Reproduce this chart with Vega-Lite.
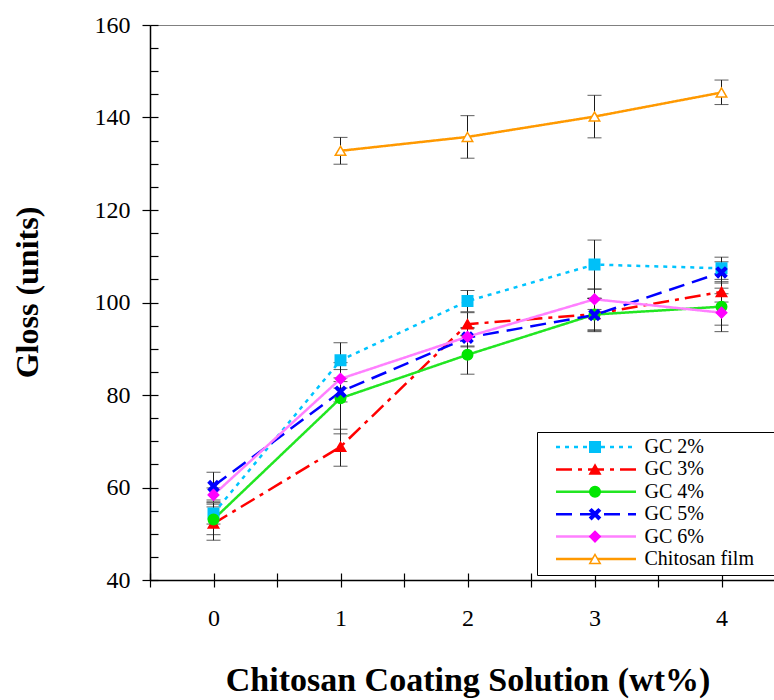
{
  "$schema": "https://vega.github.io/schema/vega-lite/v6.json",
  "width": 635,
  "height": 555,
  "autosize": {"type": "none"},
  "padding": {"left": 150, "top": 25, "right": 0, "bottom": 120},
  "background": "white",
  "config": {"view": {"stroke": "#808080", "strokeWidth": 1}, "font": "Liberation Serif, Times New Roman, DejaVu Serif, serif"},
  "data": {"values": [
    {"s": "GC 2%", "k": "1", "x": 0, "y": 54.4, "lo": 52.1, "hi": 56.7},
    {"s": "GC 2%", "k": "1", "x": 1, "y": 87.5, "lo": 83.7, "hi": 91.3},
    {"s": "GC 2%", "k": "1", "x": 2, "y": 100.3, "lo": 98.0, "hi": 102.6},
    {"s": "GC 2%", "k": "1", "x": 3, "y": 108.2, "lo": 102.9, "hi": 113.5},
    {"s": "GC 2%", "k": "1", "x": 4, "y": 107.4, "lo": 105.0, "hi": 109.8},
    {"s": "GC 3%", "k": "2", "x": 0, "y": 52.2, "lo": 48.6, "hi": 55.8},
    {"s": "GC 3%", "k": "2", "x": 1, "y": 68.8, "lo": 64.6, "hi": 72.6},
    {"s": "GC 3%", "k": "2", "x": 2, "y": 95.3, "lo": 92.8, "hi": 97.8},
    {"s": "GC 3%", "k": "2", "x": 3, "y": 97.5, "lo": 94.1, "hi": 100.9},
    {"s": "GC 3%", "k": "2", "x": 4, "y": 102.3, "lo": 100.1, "hi": 104.5},
    {"s": "GC 4%", "k": "3", "x": 0, "y": 53.1, "lo": 49.8, "hi": 56.4},
    {"s": "GC 4%", "k": "3", "x": 1, "y": 79.3, "lo": 71.6, "hi": 87.0},
    {"s": "GC 4%", "k": "3", "x": 2, "y": 88.7, "lo": 84.5, "hi": 92.9},
    {"s": "GC 4%", "k": "3", "x": 3, "y": 97.4, "lo": 93.9, "hi": 100.9},
    {"s": "GC 4%", "k": "3", "x": 4, "y": 99.1, "lo": 95.1, "hi": 103.1},
    {"s": "GC 5%", "k": "4", "x": 0, "y": 60.3, "lo": 57.3, "hi": 63.3},
    {"s": "GC 5%", "k": "4", "x": 1, "y": 80.7, "lo": 78.5, "hi": 82.9},
    {"s": "GC 5%", "k": "4", "x": 2, "y": 92.4, "lo": 90.4, "hi": 94.4},
    {"s": "GC 5%", "k": "4", "x": 3, "y": 97.3, "lo": 93.7, "hi": 100.9},
    {"s": "GC 5%", "k": "4", "x": 4, "y": 106.5, "lo": 104.2, "hi": 108.8},
    {"s": "GC 6%", "k": "5", "x": 0, "y": 58.4, "lo": 56.9, "hi": 59.9},
    {"s": "GC 6%", "k": "5", "x": 1, "y": 83.5, "lo": 81.5, "hi": 85.5},
    {"s": "GC 6%", "k": "5", "x": 2, "y": 92.6, "lo": 90.6, "hi": 94.6},
    {"s": "GC 6%", "k": "5", "x": 3, "y": 100.7, "lo": 98.5, "hi": 102.9},
    {"s": "GC 6%", "k": "5", "x": 4, "y": 97.8, "lo": 93.7, "hi": 101.9},
    {"s": "Chitosan film", "k": "6", "x": 1, "y": 132.8, "lo": 129.9, "hi": 135.7},
    {"s": "Chitosan film", "k": "6", "x": 2, "y": 135.8, "lo": 131.2, "hi": 140.4},
    {"s": "Chitosan film", "k": "6", "x": 3, "y": 140.2, "lo": 135.6, "hi": 144.8},
    {"s": "Chitosan film", "k": "6", "x": 4, "y": 145.4, "lo": 142.8, "hi": 148.1}
  ]},
  "layer": [
    {
      "mark": {"type": "errorbar", "ticks": {"size": 14}, "color": "#1a1a1a", "thickness": 1},
      "encoding": {
        "x": {"field": "x", "type": "quantitative", "scale": {"domain": [-0.5, 4.5], "nice": false, "zero": false}, "axis": null},
        "y": {"field": "lo", "type": "quantitative", "scale": {"domain": [40, 160], "nice": false, "zero": false}, "axis": null},
        "y2": {"field": "hi"}
      }
    },
    {
      "mark": {"type": "line", "strokeWidth": 2.5},
      "encoding": {
        "x": {"field": "x", "type": "quantitative", "axis": {
          "orient": "bottom", "values": [-0.5, 0, 0.5, 1, 1.5, 2, 2.5, 3, 3.5, 4, 4.5],
          "labelExpr": "datum.value % 1 === 0 ? '' + datum.value : ''",
          "tickSize": 7, "tickColor": "black", "tickWidth": 1.2, "domainColor": "black", "domainWidth": 1.5,
          "labelFont": "Liberation Serif, Times New Roman, DejaVu Serif, serif", "labelFontSize": 24, "labelColor": "black", "labelPadding": 19,
          "labelFlush": false, "labelOverlap": false, "grid": false,
          "title": "Chitosan Coating Solution (wt%)", "titleFont": "Liberation Serif, Times New Roman, DejaVu Serif, serif", "titleFontSize": 34,
          "titleFontWeight": "bold", "titleColor": "black", "titlePadding": 33}},
        "y": {"field": "y", "type": "quantitative", "axis": {
          "orient": "left", "values": [40, 60, 80, 100, 120, 140, 160],
          "tickSize": 8, "tickColor": "black", "tickWidth": 1.2, "domainColor": "black", "domainWidth": 1.5,
          "labelFont": "Liberation Serif, Times New Roman, DejaVu Serif, serif", "labelFontSize": 24, "labelColor": "black", "labelPadding": 12,
          "labelOverlap": false, "grid": false,
          "title": "Gloss (units)", "titleFont": "Liberation Serif, Times New Roman, DejaVu Serif, serif", "titleFontSize": 32,
          "titleFontWeight": "bold", "titleColor": "black", "titlePadding": 50, "titleY": 267}},
        "color": {"field": "s", "type": "nominal",
          "scale": {"domain": ["GC 2%", "GC 3%", "GC 4%", "GC 5%", "GC 6%", "Chitosan film"],
                    "range": ["#00C4FF", "#FF0000", "#22E622", "#0000FF", "#FF80FF", "#FF9900"]},
          "legend": {"orient": "none", "legendX": 387, "legendY": 407, "zindex": 0,
            "title": "M", "titleOrient": "right", "titleColor": "rgba(0,0,0,0)", "titleFontSize": 10, "titlePadding": 8,
            "symbolType": "stroke", "symbolSize": 6400, "symbolStrokeWidth": 2.5, "symbolOffset": 11.5,
            "labelFont": "Liberation Serif, Times New Roman, DejaVu Serif, serif", "labelFontSize": 20, "labelColor": "black", "labelOffset": 7,
            "padding": 6, "clipHeight": 18, "rowPadding": 2.4, "strokeColor": "black", "fillColor": "white"}},
        "strokeDash": {"field": "s", "type": "nominal",
          "scale": {"domain": ["GC 2%", "GC 3%", "GC 4%", "GC 5%", "GC 6%", "Chitosan film"],
                    "range": [[4, 5], [16, 6, 4, 6], [1, 0], [16, 8], [1, 0], [1, 0]]},
          "legend": {"orient": "none", "legendX": 387, "legendY": 407, "zindex": 0,
            "title": "M", "titleOrient": "right", "titleColor": "rgba(0,0,0,0)", "titleFontSize": 10, "titlePadding": 8,
            "symbolType": "stroke", "symbolSize": 6400, "symbolStrokeWidth": 2.5, "symbolOffset": 11.5,
            "labelFont": "Liberation Serif, Times New Roman, DejaVu Serif, serif", "labelFontSize": 20, "labelColor": "black", "labelOffset": 7,
            "padding": 6, "clipHeight": 18, "rowPadding": 2.4, "strokeColor": "black", "fillColor": "white"}}
      }
    },
    {
      "mark": {"type": "point", "filled": true, "size": 110, "strokeWidth": 1.5, "opacity": 1},
      "encoding": {
        "x": {"field": "x", "type": "quantitative", "axis": {
          "orient": "bottom", "values": [-0.5, 0, 0.5, 1, 1.5, 2, 2.5, 3, 3.5, 4, 4.5],
          "tickSize": -7, "tickColor": "black", "tickWidth": 1.2, "labels": false, "domain": false, "title": null, "grid": false}},
        "y": {"field": "y", "type": "quantitative", "axis": {
          "orient": "left", "values": [40, 45, 50, 55, 60, 65, 70, 75, 80, 85, 90, 95, 100, 105, 110, 115, 120, 125, 130, 135, 140, 145, 150, 155, 160],
          "tickSize": -8, "tickColor": "black", "tickWidth": 1.2, "labels": false, "domain": false, "title": null, "grid": false}},
        "fill": {"field": "k", "type": "nominal",
          "scale": {"domain": ["1", "2", "3", "4", "5", "6"],
                    "range": ["#00C0F8", "#FF0000", "#00E600", "#0000FF", "#FF00FF", "#FFFFFF"]},
          "legend": {"orient": "none", "legendX": 429, "legendY": 407, "title": null, "zindex": 1,
            "symbolSize": 110, "symbolStrokeWidth": 1.5,
            "labelFont": "Liberation Serif, Times New Roman, DejaVu Serif, serif", "labelFontSize": 20, "labelOpacity": 0,
            "padding": 6, "clipHeight": 18, "rowPadding": 2.4}},
        "stroke": {"field": "k", "type": "nominal",
          "scale": {"domain": ["1", "2", "3", "4", "5", "6"],
                    "range": ["#00C0F8", "#FF0000", "#00E600", "#0000FF", "#FF00FF", "#FF9900"]},
          "legend": {"orient": "none", "legendX": 429, "legendY": 407, "title": null, "zindex": 1,
            "symbolSize": 110, "symbolStrokeWidth": 1.5,
            "labelFont": "Liberation Serif, Times New Roman, DejaVu Serif, serif", "labelFontSize": 20, "labelOpacity": 0,
            "padding": 6, "clipHeight": 18, "rowPadding": 2.4}},
        "shape": {"field": "k", "type": "nominal",
          "scale": {"domain": ["1", "2", "3", "4", "5", "6"],
                    "range": ["square", "triangle-up", "circle", "M-1,-0.65L-0.65,-1L0,-0.35L0.65,-1L1,-0.65L0.35,0L1,0.65L0.65,1L0,0.35L-0.65,1L-1,0.65L-0.35,0Z", "diamond", "triangle-up"]},
          "legend": {"orient": "none", "legendX": 429, "legendY": 407, "title": null, "zindex": 1,
            "symbolSize": 110, "symbolStrokeWidth": 1.5,
            "labelFont": "Liberation Serif, Times New Roman, DejaVu Serif, serif", "labelFontSize": 20, "labelOpacity": 0,
            "padding": 6, "clipHeight": 18, "rowPadding": 2.4}}
      }
    }
  ],
  "resolve": {"axis": {"x": "independent", "y": "independent"}}
}
